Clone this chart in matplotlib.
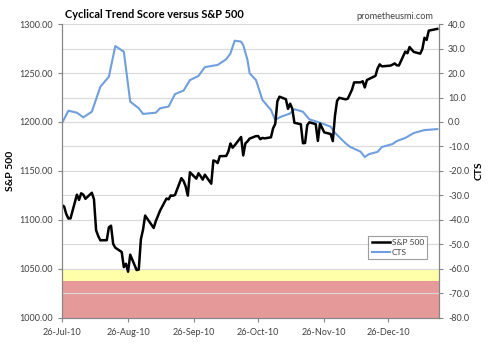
import matplotlib
matplotlib.use("Agg")
import matplotlib.pyplot as plt
import matplotlib.dates as mdates
from matplotlib.ticker import FormatStrFormatter, MultipleLocator
import pandas as pd

plt.rcParams['font.family'] = ['Lato', 'DejaVu Sans']

# S&P 500 daily closes
sp_dates = [
    "2010-07-26", "2010-07-27", "2010-07-28", "2010-07-29", "2010-07-30",
    "2010-08-02", "2010-08-03", "2010-08-04", "2010-08-05", "2010-08-06",
    "2010-08-09", "2010-08-10", "2010-08-11", "2010-08-12", "2010-08-13",
    "2010-08-16", "2010-08-17", "2010-08-18", "2010-08-19", "2010-08-20",
    "2010-08-23", "2010-08-24", "2010-08-25", "2010-08-26", "2010-08-27",
    "2010-08-30", "2010-08-31", "2010-09-01", "2010-09-02", "2010-09-03",
    "2010-09-07", "2010-09-08", "2010-09-09", "2010-09-10", "2010-09-13",
    "2010-09-14", "2010-09-15", "2010-09-16", "2010-09-17", "2010-09-20",
    "2010-09-21", "2010-09-22", "2010-09-23", "2010-09-24", "2010-09-27",
    "2010-09-28", "2010-09-29", "2010-09-30", "2010-10-01", "2010-10-04",
    "2010-10-05", "2010-10-06", "2010-10-07", "2010-10-08", "2010-10-11",
    "2010-10-12", "2010-10-13", "2010-10-14", "2010-10-15", "2010-10-18",
    "2010-10-19", "2010-10-20", "2010-10-21", "2010-10-22", "2010-10-25",
    "2010-10-26", "2010-10-27", "2010-10-28", "2010-10-29", "2010-11-01",
    "2010-11-02", "2010-11-03", "2010-11-04", "2010-11-05", "2010-11-08",
    "2010-11-09", "2010-11-10", "2010-11-11", "2010-11-12", "2010-11-15",
    "2010-11-16", "2010-11-17", "2010-11-18", "2010-11-19", "2010-11-22",
    "2010-11-23", "2010-11-24", "2010-11-26", "2010-11-29", "2010-11-30",
    "2010-12-01", "2010-12-02", "2010-12-03", "2010-12-06", "2010-12-07",
    "2010-12-08", "2010-12-09", "2010-12-10", "2010-12-13", "2010-12-14",
    "2010-12-15", "2010-12-16", "2010-12-17", "2010-12-20", "2010-12-21",
    "2010-12-22", "2010-12-23", "2010-12-27", "2010-12-28", "2010-12-29",
    "2010-12-30", "2010-12-31", "2011-01-03", "2011-01-04", "2011-01-05",
    "2011-01-06", "2011-01-07", "2011-01-10", "2011-01-11", "2011-01-12",
    "2011-01-13", "2011-01-14", "2011-01-18",
]
sp_values = [
    1115.01, 1113.84, 1106.13, 1101.53, 1101.60,
    1125.86, 1120.46, 1127.24, 1125.81, 1121.64,
    1127.79, 1121.06, 1089.47, 1083.61, 1079.25,
    1079.38, 1092.54, 1094.16, 1075.63, 1071.69,
    1067.36, 1051.87, 1055.33, 1047.22, 1064.59,
    1048.92, 1049.33, 1080.29, 1090.10, 1104.51,
    1091.84, 1098.87, 1104.18, 1109.55, 1121.90,
    1121.10, 1125.07, 1124.66, 1125.59, 1142.71,
    1139.78, 1134.28, 1124.83, 1148.67, 1142.16,
    1147.70, 1144.73, 1141.20, 1146.24, 1137.03,
    1160.75, 1159.97, 1158.06, 1165.15, 1165.32,
    1169.77, 1178.10, 1173.81, 1176.19, 1184.71,
    1165.90, 1178.17, 1180.26, 1183.08, 1185.62,
    1185.64, 1182.45, 1183.78, 1183.26, 1184.38,
    1193.57, 1197.96, 1221.06, 1225.85, 1223.25,
    1213.40, 1218.71, 1213.54, 1199.21, 1197.75,
    1178.34, 1178.59, 1196.69, 1199.73, 1197.84,
    1180.73, 1198.35, 1189.40, 1187.76, 1180.55,
    1206.07, 1221.53, 1224.71, 1223.12, 1223.75,
    1228.28, 1233.00, 1240.40, 1240.46, 1241.59,
    1235.23, 1242.87, 1243.91, 1247.08, 1254.60,
    1258.84, 1256.77, 1257.54, 1258.51, 1259.78,
    1257.88, 1257.64, 1271.87, 1270.20, 1276.56,
    1273.85, 1271.50, 1269.75, 1274.48, 1285.96,
    1283.76, 1293.24, 1295.02,
]

# Cyclical Trend Score
cts_dates = [
    "2010-07-26", "2010-07-29", "2010-08-02", "2010-08-05", "2010-08-09",
    "2010-08-13", "2010-08-17", "2010-08-20", "2010-08-24", "2010-08-27",
    "2010-08-31", "2010-09-02", "2010-09-08", "2010-09-10", "2010-09-14",
    "2010-09-17", "2010-09-21", "2010-09-24", "2010-09-28", "2010-10-01",
    "2010-10-07", "2010-10-11", "2010-10-13", "2010-10-15", "2010-10-18",
    "2010-10-19", "2010-10-21", "2010-10-22", "2010-10-25", "2010-10-26",
    "2010-10-28", "2010-11-01", "2010-11-02", "2010-11-03", "2010-11-05",
    "2010-11-10", "2010-11-12", "2010-11-16", "2010-11-19", "2010-11-24",
    "2010-11-29", "2010-12-01", "2010-12-06", "2010-12-08", "2010-12-13",
    "2010-12-15", "2010-12-17", "2010-12-21", "2010-12-23", "2010-12-28",
    "2010-12-30", "2011-01-03", "2011-01-07", "2011-01-12", "2011-01-18",
]
cts_values = [
    -0.5, 4.6, 3.8, 1.9, 4.2,
    14.4, 18.5, 31.0, 28.7, 8.3,
    5.6, 3.3, 3.8, 5.6, 6.3,
    11.4, 12.8, 17.1, 18.8, 22.4,
    23.3, 25.6, 28.0, 33.2, 32.8,
    31.4, 25.3, 19.9, 17.1, 14.4,
    9.0, 4.9, 2.9, 0.8, 1.9,
    3.5, 5.2, 4.2, 1.1, -0.3,
    -1.9, -4.4, -8.7, -10.1, -12.1,
    -14.3, -13.1, -12.2, -10.2, -9.0,
    -7.8, -6.5, -4.5, -3.3, -2.9,
]

tick_dates = ["2010-07-26", "2010-08-26", "2010-09-26", "2010-10-26",
              "2010-11-26", "2010-12-26"]

grid_col = '#D9D9D9'
axis_col = '#868686'
text_col = '#404040'

fig = plt.figure(figsize=(4.9, 3.46), dpi=100)
ax2 = fig.add_axes([0.1265, 0.081, 0.7694, 0.8496])
ax = ax2.twinx()
ax.set_zorder(ax2.get_zorder() + 1)
ax.patch.set_visible(False)

# right axis (CTS): bands, grid, blue line
ax2.axhspan(-65, -60, color='#FFFFAA', lw=0, zorder=0)
ax2.axhspan(-80, -65, color='#E69999', lw=0, zorder=0)
ln2, = ax2.plot(pd.to_datetime(cts_dates), cts_values, color='#6F9FDD',
                lw=1.5, label='CTS')
ax2.set_ylim(-80, 40)
ax2.yaxis.set_major_locator(MultipleLocator(10))
ax2.yaxis.set_major_formatter(FormatStrFormatter('%.1f'))
ax2.yaxis.grid(True, color=grid_col, lw=0.8)
ax2.yaxis.tick_right()
ax2.yaxis.set_label_position('right')
ax2.set_ylabel('CTS', fontsize=7.5, fontweight='bold', color='black',
               rotation=90, labelpad=4)

# left axis (S&P 500): black line on top
ln1, = ax.plot(pd.to_datetime(sp_dates), sp_values, color='black',
               lw=1.8, label='S&P 500')
ax.set_ylim(1000, 1300)
ax.yaxis.set_major_locator(MultipleLocator(50))
ax.yaxis.set_major_formatter(FormatStrFormatter('%.2f'))
ax.yaxis.tick_left()
ax.yaxis.set_label_position('left')
ax.set_ylabel('S&P 500', fontsize=7.5, fontweight='bold', color='black',
              labelpad=3)

ax2.set_xlim(mdates.date2num(pd.Timestamp("2010-07-26")),
             mdates.date2num(pd.Timestamp("2011-01-18")) + 0.8)
ax2.set_xticks(pd.to_datetime(tick_dates))
ax2.xaxis.set_major_formatter(mdates.DateFormatter('%d-%b-%y'))

for a in (ax, ax2):
    a.tick_params(labelsize=6.5, colors=text_col, length=3, width=0.8,
                  color=axis_col)
    a.spines['top'].set_visible(False)
    for s in ('left', 'right', 'bottom'):
        a.spines[s].set_color(axis_col)
        a.spines[s].set_linewidth(0.8)
ax2.tick_params(axis='x', pad=4)

leg = ax.legend(handles=[ln1, ln2], loc='lower right',
                bbox_to_anchor=(0.969, 0.2), borderaxespad=0, fontsize=6,
                frameon=True, fancybox=False, handlelength=2.2,
                handletextpad=0.2, borderpad=0.4, labelspacing=0.3)
leg.get_frame().set_edgecolor(axis_col)
leg.get_frame().set_linewidth(0.8)
for t in leg.get_texts():
    t.set_color(text_col)

fig.text(0.133, 0.958, 'Cyclical Trend Score versus S&P 500', fontsize=7.9,
         fontweight='bold', color='black', va='center', ha='left')
fig.text(0.885, 0.953, 'prometheusmi.com', fontsize=6.6, color=text_col,
         va='center', ha='right')

fig.savefig('out.png', dpi=100)
